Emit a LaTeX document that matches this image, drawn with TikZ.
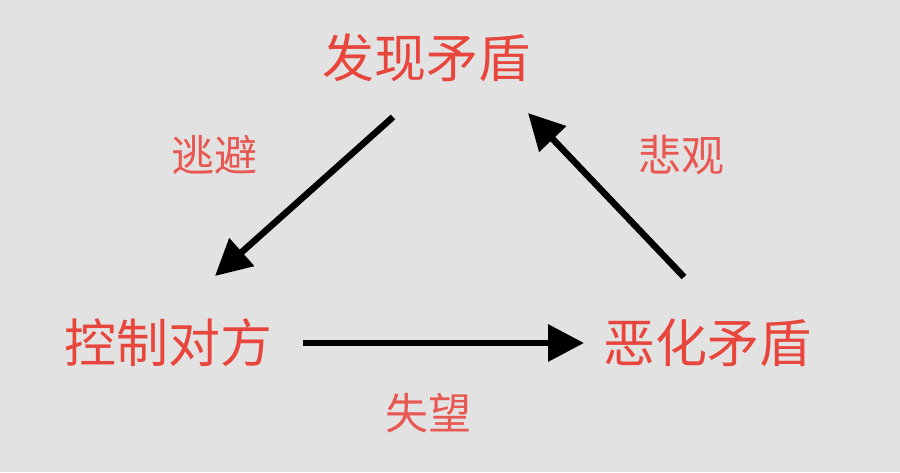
\documentclass[tikz,border=0pt]{standalone}
\usepackage{fontspec}
\newfontfamily\cjk{Noto Sans CJK SC}
\usetikzlibrary{arrows.meta}
\definecolor{bg}{RGB}{226,226,226}
\definecolor{mainred}{RGB}{232,70,60}
\definecolor{labred}{RGB}{232,88,82}
\tikzset{
  big/.style={text=mainred,font=\cjk\fontsize{52}{52}\selectfont,inner sep=0pt},
  lab/.style={text=labred,font=\cjk\fontsize{43}{43}\selectfont,inner sep=0pt},
  arr/.style={line width=6.5pt,draw=black,-{Triangle[length=36pt,width=36pt]}}
}
\begin{document}
\begin{tikzpicture}[x=1pt,y=-1pt]
\fill[bg] (0,0) rectangle (900,472);
\useasboundingbox (0,0) rectangle (900,472);
\node[big] (top) at (426,58) {发现矛盾};
\node[big] (left) at (168,343) {控制对方};
\node[big] (right) at (707,343) {恶化矛盾};
\node[lab] (l1) at (214,155) {逃避};
\node[lab] (l2) at (681,155) {悲观};
\node[lab] (l3) at (428,413) {失望};
\coordinate (a1s) at (393,117);
\coordinate (a1e) at (215,276);
\coordinate (a2s) at (684,277);
\coordinate (a2e) at (528,113);
\coordinate (a3s) at (303,343);
\coordinate (a3e) at (584,343);
\draw[arr] (a1s) -- (a1e);
\draw[arr] (a2s) -- (a2e);
\draw[arr] (a3s) -- (a3e);
\end{tikzpicture}
\end{document}
